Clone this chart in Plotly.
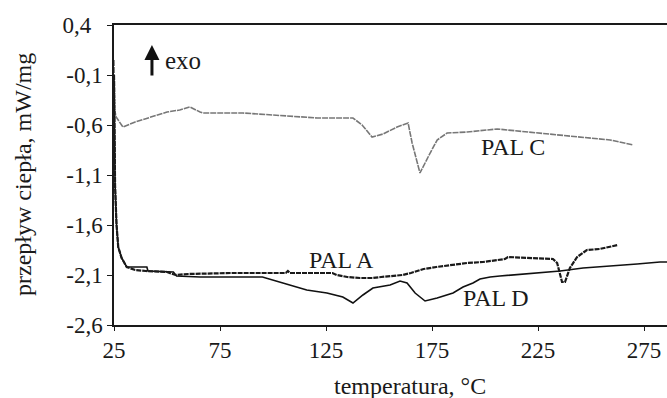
import plotly.graph_objects as go

# ---- data ----
pal_a_x = [25, 25.5, 26.2, 27, 28.6, 31, 35, 40, 50, 54, 60, 80, 106, 107, 108, 128, 130, 135, 141, 147, 151,
           155, 161, 165, 171, 177, 183.5, 191.5, 199, 209.4, 210.8, 232, 234, 236.3, 237.7, 240, 243.4, 248,
           254, 259, 262.7]
pal_a_y = [-0.10, -1.20, -1.60, -1.82, -1.93, -2.02, -2.05, -2.06, -2.07, -2.10, -2.09, -2.08, -2.08, -2.06,
           -2.08, -2.08, -2.10, -2.12, -2.13, -2.13, -2.12, -2.11, -2.10, -2.08, -2.04, -2.02, -2.00, -1.98,
           -1.97, -1.94, -1.92, -1.94, -1.98, -2.17, -2.17, -2.03, -1.92, -1.85, -1.84, -1.82, -1.80]

pal_d_x = [25, 25.5, 26.2, 27, 28.6, 31, 33, 40.5, 41, 53, 54.5, 65.6, 95, 104.6, 115.9, 125.4, 132.9, 137.7,
           142.4, 147.1, 155.2, 159.9, 163.2, 167, 171.7, 177.4, 184.9, 189.6, 194.3, 197.6, 202.4, 207,
           222.6, 235.4, 246.2, 260.4, 271.7, 282.5, 285.8]
pal_d_y = [-0.10, -1.20, -1.60, -1.82, -1.93, -2.02, -2.02, -2.02, -2.06, -2.07, -2.11, -2.12, -2.12, -2.18,
           -2.25, -2.28, -2.32, -2.38, -2.30, -2.23, -2.20, -2.16, -2.18, -2.28, -2.36, -2.33, -2.28, -2.22,
           -2.18, -2.14, -2.12, -2.11, -2.08, -2.06, -2.03, -2.01, -1.99, -1.97, -1.97]

pal_c_x = [25, 25.3, 26, 29.2, 35, 42, 50, 56, 60.8, 65.6, 67, 85.8, 101.9, 106.6, 120.8, 137.7, 142, 146.7,
           151.9, 158.5, 163.7, 165.6, 169.3, 174.1, 177.4, 182.1, 191.5, 205.7, 215.1, 227.4, 243.4, 259, 269.8]
pal_c_y = [0.05, -0.45, -0.52, -0.62, -0.57, -0.52, -0.47, -0.45, -0.42, -0.47, -0.48, -0.48, -0.50, -0.51,
           -0.53, -0.53, -0.60, -0.72, -0.69, -0.62, -0.58, -0.78, -1.08, -0.88, -0.75, -0.68, -0.67, -0.64,
           -0.66, -0.69, -0.72, -0.75, -0.80]

x_ticks = [25, 75, 125, 175, 225, 275]
x_tick_text = ["25", "75", "125", "175", "225", "275"]
y_ticks = [0.4, -0.1, -0.6, -1.1, -1.6, -2.1, -2.6]
y_tick_text = ["0,4\u00a0\u00a0", "-0,1", "-0,6", "-1,1", "-1,6", "-2,1", "-2,6"]

FONT = "Liberation Serif, Times New Roman, serif"

fig = go.Figure()
fig.add_trace(go.Scatter(x=pal_c_x, y=pal_c_y, mode="lines", name="PAL C",
                         line=dict(color="#777777", width=1.6, dash="6px,1px")))
fig.add_trace(go.Scatter(x=pal_d_x, y=pal_d_y, mode="lines", name="PAL D",
                         line=dict(color="#111111", width=1.6)))
fig.add_trace(go.Scatter(x=pal_a_x, y=pal_a_y, mode="lines", name="PAL A",
                         line=dict(color="#1a1a1a", width=2.2, dash="5px,1px")))

fig.update_layout(
    width=667, height=398,
    margin=dict(l=114, r=0, t=25, b=73),
    paper_bgcolor="white", plot_bgcolor="white",
    showlegend=False,
    font=dict(family=FONT, color="#1a1a1a"),
    xaxis=dict(range=[25, 285.8], tickvals=x_ticks, ticktext=x_tick_text,
               showgrid=False, zeroline=False, showline=True, linecolor="#1a1a1a", linewidth=1.5,
               mirror=True, ticks="outside", ticklen=4, tickwidth=1.2, tickcolor="#1a1a1a",
               tickfont=dict(size=23, family=FONT, color="#1a1a1a")),
    yaxis=dict(range=[-2.6, 0.4], tickvals=y_ticks, ticktext=y_tick_text,
               showgrid=False, zeroline=False, showline=True, linecolor="#1a1a1a", linewidth=1.5,
               ticks="outside", ticklen=5, tickwidth=1.2, tickcolor="#1a1a1a",
               tickfont=dict(size=23, family=FONT, color="#1a1a1a")),
)

fig.add_annotation(text="przepływ ciepła, mW/mg", xref="paper", yref="paper",
                   x=(23 - 114) / 553, y=(325 - 175) / 300, textangle=-90,
                   showarrow=False, xanchor="center", yanchor="middle",
                   font=dict(size=24, family=FONT, color="#1a1a1a"))
fig.add_annotation(text="temperatura, °C", xref="paper", yref="paper",
                   x=(410 - 114) / 553, y=(325 - 386) / 300,
                   showarrow=False, xanchor="center", yanchor="middle",
                   font=dict(size=24, family=FONT, color="#1a1a1a"))

for txt, lx, ly in [("PAL C", 213.2, -0.82), ("PAL A", 132.1, -1.95), ("PAL D", 205.2, -2.33)]:
    fig.add_annotation(text=txt, x=lx, y=ly, showarrow=False, xanchor="center", yanchor="middle",
                       font=dict(size=24, family=FONT, color="#1a1a1a"))

fig.add_annotation(text="", x=42.9, y=0.2, ax=42.9, ay=-0.12, axref="x", ayref="y",
                   showarrow=True, arrowhead=2, arrowsize=1, arrowwidth=3, arrowcolor="#111111")
fig.add_annotation(text="exo", x=48.1, y=0.05, showarrow=False, xanchor="left", yanchor="middle",
                   font=dict(size=25, family=FONT, color="#1a1a1a"))

fig.write_html("out.html", config={"displayModeBar": False},
               post_script="document.body.style.margin='0';document.body.style.padding='0';"
                           "document.documentElement.style.overflow='hidden';")
